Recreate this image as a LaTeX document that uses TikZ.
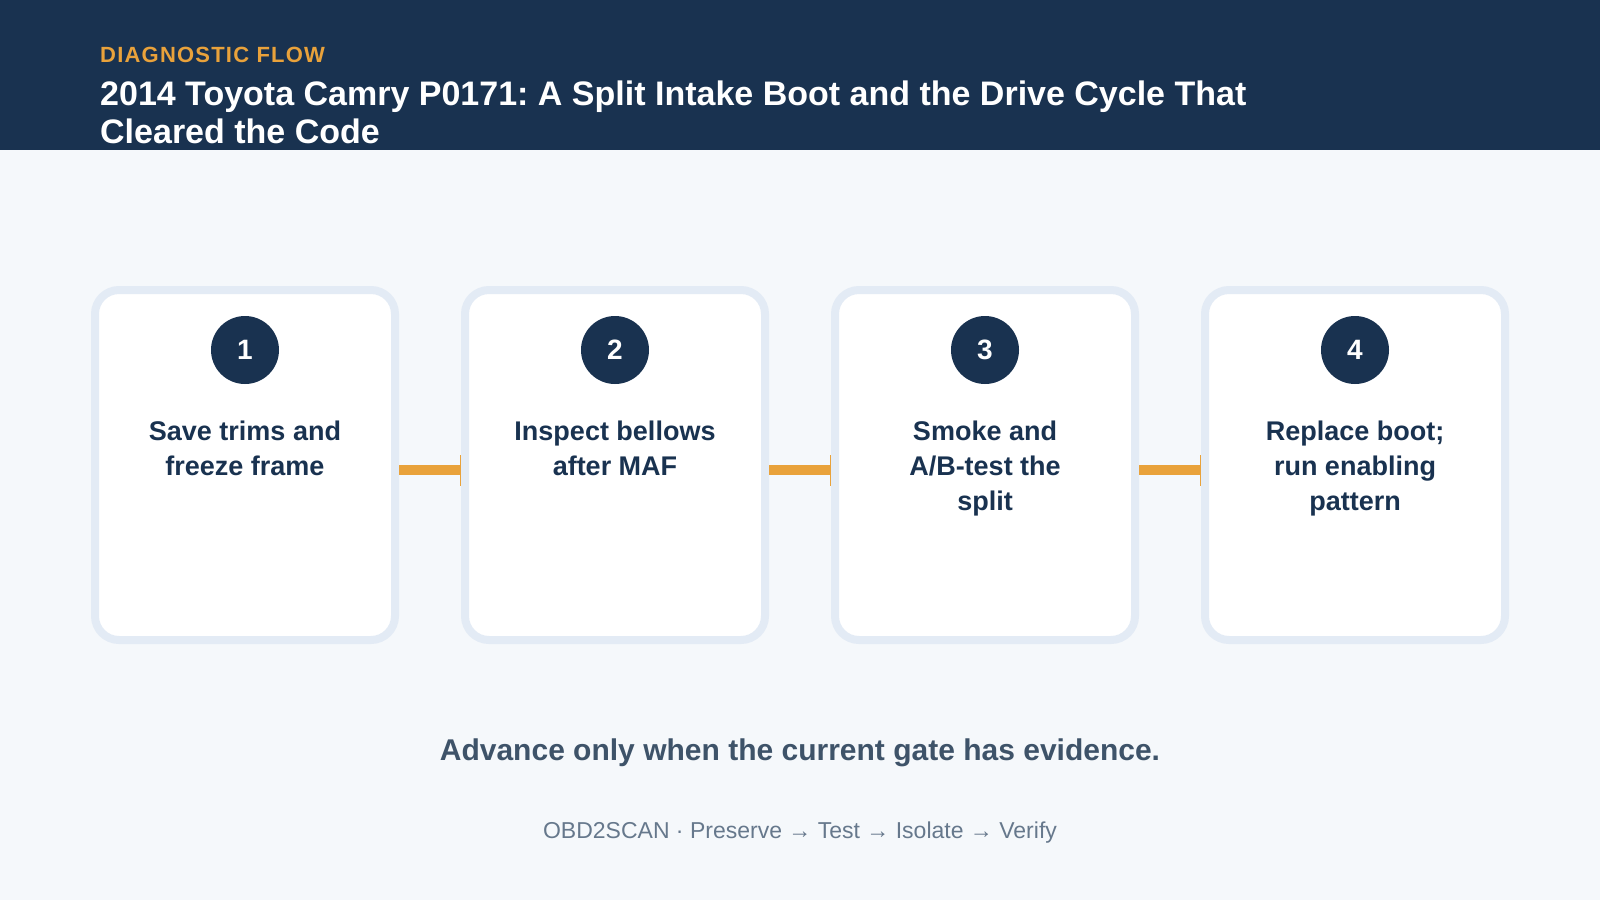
\documentclass[tikz,border=0pt]{standalone}
\usepackage{fontspec}
\setmainfont{Liberation Sans}
\usepackage{xcolor}
\usepackage{tikz}
\usetikzlibrary{arrows.meta}
\frenchspacing

\definecolor{navy}{HTML}{193250}
\definecolor{amber}{HTML}{E9A23B}
\definecolor{paper}{HTML}{F5F8FB}
\definecolor{cardline}{HTML}{E3EBF5}
\definecolor{slate}{HTML}{3E5369}
\definecolor{muted}{HTML}{66788C}

\tikzset{
  card/.style={draw=cardline, line width=8pt, fill=white, rounded corners=24pt,
    minimum width=300pt, minimum height=350pt},
  badge/.style={circle, fill=navy, minimum size=68pt, inner sep=0pt, text=white,
    font=\fontsize{28}{34}\selectfont\bfseries},
  steptext/.style={anchor=north, align=center, inner sep=0pt, text=navy,
    font=\fontsize{27}{35}\selectfont\bfseries},
  flow/.style={draw=amber, line width=10pt, -{Rectangle[length=1.5pt,width=31pt]}}
}

\begin{document}
\begin{tikzpicture}[x=1pt, y=-1pt]
            \fill[paper] (0,0) rectangle (1600,900);
            \useasboundingbox (0,0) rectangle (1600,900);
            
            \fill[navy] (0,0) rectangle (1600,150);
            \node[anchor=base west, inner sep=0pt, text=amber, font=\fontsize{22}{26}\selectfont\bfseries\addfontfeature{LetterSpace=5.5}] (kicker) at (100,62) {DIAGNOSTIC FLOW};
            \node[anchor=base west, inner sep=0pt, text=white, font=\fontsize{34}{38}\selectfont\bfseries] (title1) at (100,105) {2014 Toyota Camry P0171: A Split Intake Boot and the Drive Cycle That};
            \node[anchor=base west, inner sep=0pt, text=white, font=\fontsize{34}{38}\selectfont\bfseries] (title2) at (100,143) {Cleared the Code};
            
            \node[card] (c1) at (245,465) {};
            \node[badge] (b1) at (245,350) {1};
            \node[steptext] (t1) at (245,421) {Save trims and\\freeze frame};
            
            \node[card] (c2) at (615,465) {};
            \node[badge] (b2) at (615,350) {2};
            \node[steptext] (t2) at (615,421) {Inspect bellows\\after MAF};
            
            \node[card] (c3) at (985,465) {};
            \node[badge] (b3) at (985,350) {3};
            \node[steptext] (t3) at (985,421) {Smoke and\\A/B-test the\\split};
            
            \node[card] (c4) at (1355,465) {};
            \node[badge] (b4) at (1355,350) {4};
            \node[steptext] (t4) at (1355,421) {Replace boot;\\run enabling\\pattern};
            
            \draw[flow] ([yshift=-5pt]c1.east) -- ([yshift=-5pt]c2.west);
            \draw[flow] ([yshift=-5pt]c2.east) -- ([yshift=-5pt]c3.west);
            \draw[flow] ([yshift=-5pt]c3.east) -- ([yshift=-5pt]c4.west);
            
            \node[anchor=base, inner sep=0pt, text=slate, font=\fontsize{30}{34}\selectfont\bfseries] (gate) at (800,760) {Advance only when the current gate has evidence.};
            \node[anchor=base, inner sep=0pt, text=muted, font=\fontsize{23}{26}\selectfont] (footer) at (800,838) {OBD2SCAN · Preserve → Test → Isolate → Verify};
        \end{tikzpicture}
\end{document}
